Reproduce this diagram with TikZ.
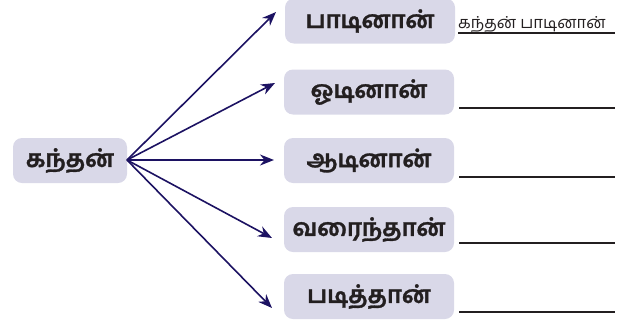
\documentclass[tikz,border=0pt]{standalone}
\usepackage{fontspec}
\newfontfamily\tamil[Script=Tamil,BoldFeatures={FakeBold=1.2}]{Hind Madurai}
\usetikzlibrary{arrows.meta}
\definecolor{boxfill}{HTML}{D9D8E8}
\definecolor{arrowcol}{HTML}{1C1262}
\definecolor{txt}{HTML}{231F20}
\begin{document}
\begin{tikzpicture}[x=1pt,y=-1pt,
  wordbox/.style={fill=boxfill,rounded corners=9pt,minimum width=170pt,minimum height=45pt,inner sep=0pt,font=\tamil\bfseries\fontsize{24}{26}\selectfont,text=txt},
  conn/.style={draw=arrowcol,line width=1.6pt,-{Stealth[length=14pt,width=11pt]}},
  blank/.style={draw=txt,line width=1.7pt}]
\useasboundingbox (0,0) rectangle (629,322);
\node[wordbox,minimum width=114pt] (k) at (70,160.5) {கந்தன்};
\node[wordbox] (b1) at (370,21) {பாடினான்};
\node[wordbox] (b2) at (369,92) {ஓடினான்};
\node[wordbox] (b3) at (369,160.5) {ஆடினான்};
\node[wordbox] (b4) at (369,229.5) {வரைந்தான்};
\node[wordbox] (b5) at (369,296.5) {படித்தான்};
\coordinate (o) at (127,160);
\coordinate (t1) at (276,12);
\coordinate (t2) at (275,83);
\coordinate (t3) at (274,160);
\coordinate (t4) at (272,238);
\coordinate (t5) at (272,308);
\foreach \i in {1,...,5} \draw[conn] (o) -- (t\i);
\node[font=\tamil\fontsize{16.5}{18}\selectfont,text=txt,anchor=base west,inner sep=0pt] (a1) at (458,28) {கந்தன் பாடினான்};
\coordinate (u1a) at (458,33); \coordinate (u1b) at (615,33);
\draw[draw=txt,line width=1.2pt] (u1a) -- (u1b);
\coordinate (l2a) at (459,108); \coordinate (l2b) at (615,108);
\coordinate (l3a) at (459,177); \coordinate (l3b) at (615,177);
\coordinate (l4a) at (459,243); \coordinate (l4b) at (615,243);
\coordinate (l5a) at (459,312); \coordinate (l5b) at (615,312);
\foreach \i in {2,...,5} \draw[blank] (l\i a) -- (l\i b);
\end{tikzpicture}
\end{document}
